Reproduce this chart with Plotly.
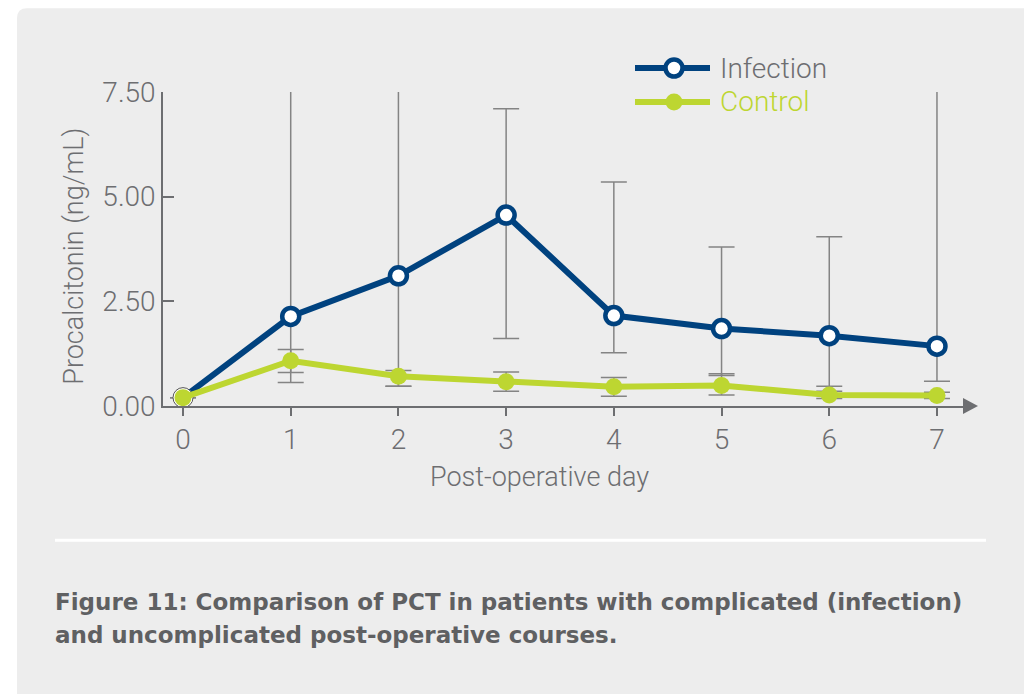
import plotly.graph_objects as go

days = [0, 1, 2, 3, 4, 5, 6, 7]
day_labels = ["0", "1", "2", "3", "4", "5", "6", "7"]

infection_mean = [0.20, 2.14, 3.11, 4.56, 2.16, 1.85, 1.68, 1.43]
infection_upper = [0.20, 7.80, 7.80, 7.10, 5.35, 3.80, 4.04, 7.80]
infection_lower = [0.20, 0.56, 0.47, 1.61, 1.27, 0.73, 0.47, 0.59]

control_mean = [0.20, 1.08, 0.71, 0.58, 0.46, 0.49, 0.26, 0.25]
control_upper = [0.20, 1.35, 0.85, 0.81, 0.68, 0.77, 0.35, 0.33]
control_lower = [0.20, 0.80, 0.47, 0.35, 0.23, 0.26, 0.18, 0.18]

y_ticks = [0, 2.5, 5, 7.5]

NAVY = "#00427f"
LIME = "#bdd631"
GREY = "#6d6e71"
ERR = "#848484"
FONT = "Roboto"

W, H = 1032, 694
OFF = 8  # page body margin
# plot area in page pixels
PL, PR, PT, PB = 163, 965, 92, 406.5
L, R, T, B = PL - OFF, PR - OFF, PT - OFF, PB - OFF


def px(x):
    return (x - OFF - L) / (R - L)


def py(y):
    return (B - (y - OFF)) / (B - T)


light = dict(family=FONT, color=GREY, weight=300)

fig = go.Figure()

# error bars first so lines and markers sit on top of them
for mean, upper, lower in [(infection_mean, infection_upper, infection_lower),
                           (control_mean, control_upper, control_lower)]:
    fig.add_trace(go.Scatter(
        x=days, y=mean, mode="lines", line=dict(width=0, color="rgba(0,0,0,0)"),
        error_y=dict(type="data", symmetric=False,
                     array=[u - m for u, m in zip(upper, mean)],
                     arrayminus=[m - l for m, l in zip(mean, lower)],
                     color=ERR, thickness=1.5, width=13),
        showlegend=False, hoverinfo="skip",
    ))

fig.add_trace(go.Scatter(
    x=days, y=infection_mean, name="Infection", mode="lines",
    line=dict(color=NAVY, width=6), showlegend=False,
))
# baseline point (day 0) has a thin outline, later days the thick navy ring
fig.add_trace(go.Scatter(
    x=days[:1], y=infection_mean[:1], mode="markers",
    marker=dict(size=20, color="white", line=dict(color="#555555", width=1)),
    showlegend=False,
))
fig.add_trace(go.Scatter(
    x=days[1:], y=infection_mean[1:], mode="markers",
    marker=dict(size=17, color="white", line=dict(color=NAVY, width=4.5)),
    showlegend=False,
))

fig.add_trace(go.Scatter(
    x=days, y=control_mean, name="Control", mode="lines+markers",
    line=dict(color=LIME, width=6),
    marker=dict(size=17, color=LIME),
    showlegend=False,
))

# card background with rounded top-left corner
x0, x1, y0, y1 = px(17), px(1060), py(8), py(720)
rx, ry = 10 / (R - L), 10 / (B - T)
card = (f"M {x0},{y1} L {x0},{y0 - ry} Q {x0},{y0} {x0 + rx},{y0} "
        f"L {x1},{y0} L {x1},{y1} Z")
shapes = [
    dict(type="path", path=card, xref="paper", yref="paper",
         fillcolor="#ededed", line=dict(width=0), layer="below"),
    dict(type="line", xref="paper", yref="paper", x0=px(55), x1=px(986),
         y0=py(541), y1=py(541), line=dict(color="white", width=3)),
    # axis arrow
    dict(type="path", xref="paper", yref="paper", xsizemode="pixel", ysizemode="pixel",
         xanchor=1, yanchor=0, path="M -2,8 L 13,0 L -2,-8 Z",
         fillcolor=GREY, line=dict(width=0)),
    # legend
    dict(type="line", xref="paper", yref="paper", x0=px(635), x1=px(710),
         y0=py(68), y1=py(68), line=dict(color=NAVY, width=6)),
    dict(type="circle", xref="paper", yref="paper", xsizemode="pixel", ysizemode="pixel",
         xanchor=px(674), yanchor=py(68), x0=-8.5, x1=8.5, y0=-8.5, y1=8.5,
         fillcolor="white", line=dict(color=NAVY, width=4.5)),
    dict(type="line", xref="paper", yref="paper", x0=px(635), x1=px(710),
         y0=py(102), y1=py(102), line=dict(color=LIME, width=6)),
    dict(type="circle", xref="paper", yref="paper", xsizemode="pixel", ysizemode="pixel",
         xanchor=px(674), yanchor=py(102), x0=-8.5, x1=8.5, y0=-8.5, y1=8.5,
         fillcolor=LIME, line=dict(width=0)),
]

caption_font = dict(family="DejaVu Sans", size=23, color="#5f6062", weight="bold")
annotations = [
    dict(text="Infection", x=px(718), y=py(68), xref="paper", yref="paper",
         xanchor="left", yanchor="middle", showarrow=False,
         font=dict(light, size=28)),
    dict(text="Control", x=px(718), y=py(102), xref="paper", yref="paper",
         xanchor="left", yanchor="middle", showarrow=False,
         font=dict(light, size=28, color=LIME)),
    dict(text="Procalcitonin (ng/mL)", x=px(74), y=py(257), xref="paper", yref="paper",
         textangle=-90, xanchor="center", yanchor="middle", showarrow=False,
         font=dict(light, size=27)),
    dict(text="Post-operative day", x=px(539), y=py(478), xref="paper", yref="paper",
         xanchor="center", yanchor="middle", showarrow=False,
         font=dict(light, size=27)),
    dict(text="Figure 11: Comparison of PCT in patients with complicated (infection)",
         x=px(53), y=py(603), xref="paper", yref="paper",
         xanchor="left", yanchor="middle", showarrow=False, font=caption_font),
    dict(text="and uncomplicated post-operative courses.",
         x=px(53), y=py(636), xref="paper", yref="paper",
         xanchor="left", yanchor="middle", showarrow=False, font=caption_font),
]

fig.update_layout(
    width=W, height=H,
    margin=dict(l=L, r=W - R, t=T, b=H - B, autoexpand=False),
    paper_bgcolor="white", plot_bgcolor="rgba(0,0,0,0)",
    shapes=shapes, annotations=annotations,
    font=dict(family=FONT, color=GREY),
    hovermode=False,
    xaxis=dict(range=[(PL - 183) / 107.71, (PR - 183) / 107.71],
               tickvals=days, ticktext=day_labels,
               showline=True, linecolor=GREY, linewidth=1.5,
               ticks="outside", ticklen=8, tickwidth=1.5, tickcolor=GREY,
               showgrid=False, zeroline=False, automargin=False,
               tickfont=dict(light, size=28)),
    yaxis=dict(range=[0, 7.5], tickvals=y_ticks, tickformat=".2f",
               showline=True, linecolor=GREY, linewidth=1.5,
               ticks="inside", ticklen=11, tickwidth=1.5, tickcolor=GREY,
               showgrid=False, zeroline=False, automargin=False,
               tickfont=dict(light, size=28)),
)

fig.write_html("out.html")
